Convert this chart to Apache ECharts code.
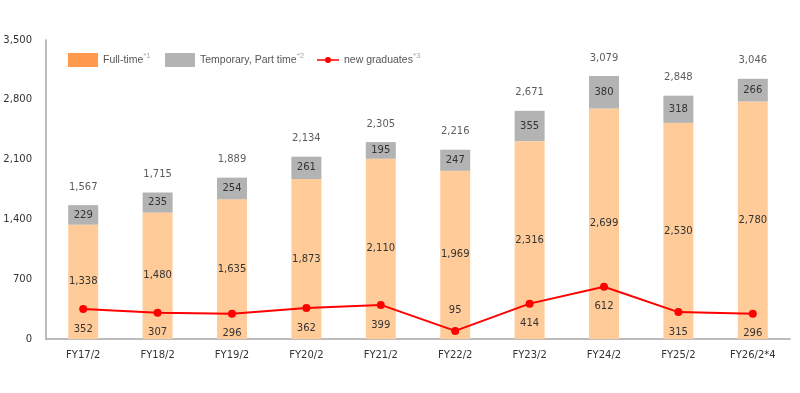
<!DOCTYPE html>
<html><head><meta charset="utf-8">
<script src="https://cdn.jsdelivr.net/npm/echarts@6/dist/echarts.min.js"></script>
<style>html,body{margin:0;padding:0;background:#fff}#c{width:800px;height:393px}</style>
</head><body><div id="c"></div>
<script>
const categories = ['FY17/2','FY18/2','FY19/2','FY20/2','FY21/2','FY22/2','FY23/2','FY24/2','FY25/2','FY26/2*4'];
const fullTime = [1338,1480,1635,1873,2110,1969,2316,2699,2530,2780];
const temporary = [229,235,254,261,195,247,355,380,318,266];
const totals = [1567,1715,1889,2134,2305,2216,2671,3079,2848,3046];
const graduates = [352,307,296,362,399,95,414,612,315,296];
const yTicks = [0,700,1400,2100,2800,3500];

const font = 'DejaVu Sans';
const fmt = v => v.toLocaleString('en-US');
const chart = echarts.init(document.getElementById('c'));
const legendBase = {top: 52, padding: 0, itemWidth: 30, itemHeight: 14, itemGap: 0, icon: 'rect',
  textStyle: {fontFamily: 'Liberation Sans, Arial', fontSize: 10.5, color: '#555',
    rich: {s: {fontSize: 8, color: '#aaa', verticalAlign: 'top', padding: [0,0,8,0]}}}};
chart.setOption({
  animation: false,
  grid: {left: 46, right: 10, top: 40, bottom: 54},
  legend: [
    Object.assign({}, legendBase, {left: 68, data: [{name: 'Full-time', itemStyle: {color: '#ff9a4d'}}],
      formatter: n => n + '{s|*1}'}),
    Object.assign({}, legendBase, {left: 165, data: [{name: 'Temporary, Part time', itemStyle: {color: '#b3b3b3'}}],
      formatter: n => n + '{s|*2}'}),
    Object.assign({}, legendBase, {left: 317, top: 52, itemWidth: 22, itemHeight: 8,
      data: [{name: 'new graduates', icon: 'path://M0,3.2L22,3.2L22,4.8L0,4.8Z M11,1A3,3 0 1,1 11,7A3,3 0 1,1 11,1Z'}],
      formatter: n => n + '{s|*3}'})
  ],
  xAxis: {type: 'category', data: categories,
    axisLine: {lineStyle: {color: '#a6a6a6', width: 1.5}}, axisTick: {show: false},
    axisLabel: {fontFamily: font, fontSize: 10, color: '#333', margin: 11}},
  yAxis: {type: 'value', min: yTicks[0], max: yTicks[yTicks.length-1], interval: 700,
    axisLine: {show: true, lineStyle: {color: '#a6a6a6', width: 1.5}}, axisTick: {show: false},
    splitLine: {show: false},
    axisLabel: {fontFamily: font, fontSize: 10, color: '#333', margin: 14, formatter: v => fmt(v)}},
  series: [
    {name: 'Full-time', type: 'bar', stack: 'a', barWidth: 30, data: fullTime,
      itemStyle: {color: '#ffcc99'},
      label: {show: true, position: 'inside', fontFamily: font, fontSize: 10, color: '#333', formatter: p => fmt(p.value)}},
    {name: 'Temporary, Part time', type: 'bar', stack: 'a', barWidth: 30, data: temporary,
      itemStyle: {color: '#b3b3b3'},
      label: {show: true, position: 'inside', fontFamily: font, fontSize: 10, color: '#333', formatter: p => fmt(p.value)}},
    {name: 'total', type: 'scatter', data: totals, symbolSize: 0, silent: true,
      label: {show: true, position: 'top', distance: 13, fontFamily: font, fontSize: 10, color: '#333', formatter: p => fmt(p.value)}},
    {name: 'new graduates', type: 'line', data: graduates.map((v, i) => ({value: v,
        label: {position: v < 200 ? 'top' : 'bottom'}})),
      symbol: 'circle', symbolSize: 8, z: 5,
      lineStyle: {color: '#ff0000', width: 2}, itemStyle: {color: '#ff0000'},
      label: {show: true, position: 'bottom', distance: 11, fontFamily: font, fontSize: 10, color: '#333', formatter: p => fmt(p.value)}}
  ]
});
</script></body></html>
